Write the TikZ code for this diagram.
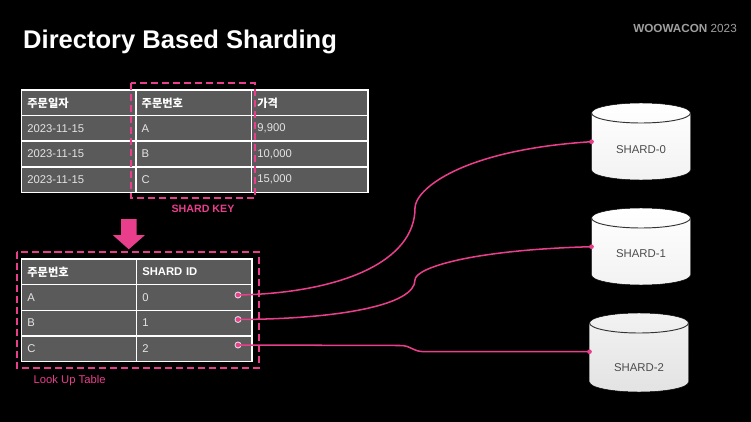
\documentclass[tikz,border=0pt]{standalone}
\usepackage{fontspec}
\setmainfont{Liberation Sans}
\newfontfamily\kr{Noto Sans CJK KR}
\usetikzlibrary{arrows.meta,positioning,calc}

\definecolor{shardpink}{RGB}{232,62,140}
\definecolor{cellgray}{RGB}{90,90,90}
\definecolor{celltext}{RGB}{228,228,228}
\definecolor{portgray}{RGB}{215,215,215}

\begin{document}
\begin{tikzpicture}[
    x=0.03cm, y=-0.03cm,
    cell/.style={
        draw=white,
        line width=1.2pt,
        fill=cellgray,
        anchor=north west,
        align=left,
        outer sep=0pt,
        inner xsep=0.17cm,
        inner ysep=0pt,
        minimum height=0.768cm,
        text=celltext,
        font=\fontsize{9.6}{11}\selectfont
    },
    headcell/.style={
        cell,
        text=white,
        font=\bfseries\fontsize{9.6}{11}\selectfont
    },
    keybox/.style={
        draw=shardpink,
        line width=1.5pt,
        dash pattern=on 6pt off 3.4pt
    },
    link/.style={
        draw=shardpink,
        line width=1.3pt
    },
    port/.style={
        circle,
        fill=portgray,
        inner sep=0pt,
        minimum size=0.21cm
    },
    dbbody/.style={
        top color=white,
        bottom color=gray!10
    },
    dbrim/.style={
        draw=black!80,
        line width=0.8pt
    },
    dblabel/.style={
        font=\fontsize{9.7}{11}\selectfont,
        text=black!70
    },
    tag/.style={
        text=shardpink,
        font=\fontsize{9.6}{11}\selectfont
    }
]

% ---------------------------------------------------------
% Canvas and title
% ---------------------------------------------------------
\path[use as bounding box] (0,0) rectangle (751,422);
\fill[black] (0,0) rectangle (751,422);

\node[anchor=base west, inner sep=0pt, text=white,
    font=\bfseries\fontsize{21.8}{24}\selectfont] (title) at (23,48.3)
    {Directory Based Sharding};

\node[anchor=base east, inner sep=0pt, text=gray!75,
    font=\fontsize{10}{12}\selectfont] (brand) at (737,32.3)
    {\textbf{WOOWACON} 2023};

% ---------------------------------------------------------
% Order table
% ---------------------------------------------------------
\node[headcell, text width=3.09cm] (ordh1) at (21.7,90) {\kr 주문일자};
\node[headcell, text width=3.13cm] (ordh2) at (ordh1.north east) {\kr 주문번호};
\node[headcell, text width=3.15cm] (ordh3) at (ordh2.north east) {\kr 가격};

\node[cell, text width=3.09cm] (ord11) at (ordh1.south west) {2023-11-15};
\node[cell, text width=3.13cm] (ord12) at (ord11.north east) {A};
\node[cell, text width=3.15cm] (ord13) at (ord12.north east) {9,900};

\node[cell, text width=3.09cm] (ord21) at (ord11.south west) {2023-11-15};
\node[cell, text width=3.13cm] (ord22) at (ord21.north east) {B};
\node[cell, text width=3.15cm] (ord23) at (ord22.north east) {10,000};

\node[cell, text width=3.09cm] (ord31) at (ord21.south west) {2023-11-15};
\node[cell, text width=3.13cm] (ord32) at (ord31.north east) {C};
\node[cell, text width=3.15cm] (ord33) at (ord32.north east) {15,000};

% shard key column
\draw[keybox] (130.7,83.3) rectangle (255,198.3);
\node[tag, font=\bfseries\fontsize{9.1}{11}\selectfont] (keytag) at (203,209)
    {SHARD KEY};

% ---------------------------------------------------------
% Arrow down to the look up table
% ---------------------------------------------------------
\fill[shardpink] (121,219) -- (136.5,219) -- (136.5,235) -- (145,235)
    -- (128.8,249.3) -- (112.7,235) -- (121,235) -- cycle;

% ---------------------------------------------------------
% Look up table
% ---------------------------------------------------------
\node[headcell, text width=3.11cm] (lkph1) at (21.7,259) {\kr 주문번호};
\node[headcell, text width=3.12cm] (lkph2) at (lkph1.north east) {SHARD ID};

\node[cell, text width=3.11cm] (lkp11) at (lkph1.south west) {A};
\node[cell, text width=3.12cm] (lkp12) at (lkp11.north east) {0};

\node[cell, text width=3.11cm] (lkp21) at (lkp11.south west) {B};
\node[cell, text width=3.12cm] (lkp22) at (lkp21.north east) {1};

\node[cell, text width=3.11cm] (lkp31) at (lkp21.south west) {C};
\node[cell, text width=3.12cm] (lkp32) at (lkp31.north east) {2};

\draw[keybox] (16.7,252) rectangle (259,368);
\node[tag, anchor=west] (lkptag) at (29.5,380.7) {Look Up Table};

\node[port] (pa) at (238,295) {};
\node[port] (pb) at (238,319.5) {};
\node[port] (pc) at (238,345) {};

% ---------------------------------------------------------
% Shards
% ---------------------------------------------------------
\draw[dbbody] (591.5,113) -- (591.5,170)
    arc[start angle=180, end angle=0, x radius=49.5, y radius=10]
    -- (690.5,113)
    arc[start angle=0, end angle=-180, x radius=49.5, y radius=10] -- cycle;
\draw[dbrim] (591.5,113)
    arc[start angle=180, end angle=0, x radius=49.5, y radius=10];
\node[dblabel] (shard0) at (641,150) {SHARD-0};
\coordinate (s0) at (591.5,141.7);

\draw[dbbody] (591.5,218) -- (591.5,275)
    arc[start angle=180, end angle=0, x radius=49.5, y radius=10]
    -- (690.5,218)
    arc[start angle=0, end angle=-180, x radius=49.5, y radius=10] -- cycle;
\draw[dbrim] (591.5,218)
    arc[start angle=180, end angle=0, x radius=49.5, y radius=10];
\node[dblabel] (shard1) at (641,254) {SHARD-1};
\coordinate (s1) at (591.5,246.7);

\draw[dbbody, top color=gray!10, bottom color=gray!22] (589.5,323) -- (589.5,382)
    arc[start angle=180, end angle=0, x radius=49.5, y radius=10]
    -- (688.5,323)
    arc[start angle=0, end angle=-180, x radius=49.5, y radius=10] -- cycle;
\draw[dbrim] (589.5,323)
    arc[start angle=180, end angle=0, x radius=49.5, y radius=10];
\node[dblabel] (shard2) at (639,368) {SHARD-2};
\coordinate (s2) at (589.5,351.7);

% ---------------------------------------------------------
% Links from shard id to shard
% ---------------------------------------------------------
\draw[link] (pa.center) .. controls (340,293) and (415,262) .. (415,208)
    .. controls (415,190) and (460,150) .. (s0);
\draw[link] (pb.center) .. controls (340,319) and (415,305) .. (415,280)
    .. controls (415,268) and (470,250) .. (s1);
\draw[link] (pc.center) -- (400,345.5)
    .. controls (412,345.5) and (412,351.7) .. (425,351.7) -- (s2);

\fill[shardpink] (pa.center) circle (2pt) (pb.center) circle (2pt)
    (pc.center) circle (2pt);
\fill[shardpink] (s0) circle (2pt) (s1) circle (2pt) (s2) circle (2pt);

\end{tikzpicture}
\end{document}
